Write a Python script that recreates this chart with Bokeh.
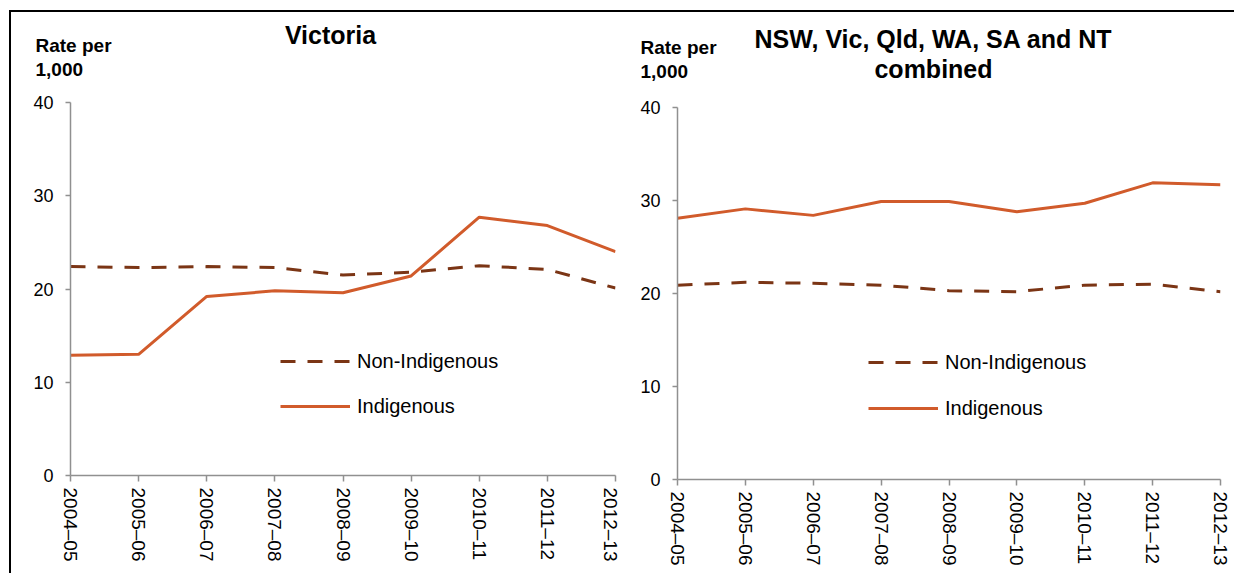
from bokeh.plotting import figure
from bokeh.layouts import row, column
from bokeh.models import Range1d, FixedTicker, Label, Legend, LegendItem, Spacer
from bokeh.embed import file_html
from bokeh.resources import INLINE

years = ["2004\u201305", "2005\u201306", "2006\u201307", "2007\u201308", "2008\u201309",
         "2009\u201310", "2010\u201311", "2011\u201312", "2012\u201313"]
vic_non_indigenous = [22.4, 22.3, 22.4, 22.3, 21.5, 21.8, 22.5, 22.1, 20.1]
vic_indigenous = [12.9, 13.0, 19.2, 19.8, 19.6, 21.4, 27.7, 26.8, 24.0]
comb_non_indigenous = [20.9, 21.2, 21.1, 20.9, 20.3, 20.2, 20.9, 21.0, 20.2]
comb_indigenous = [28.1, 29.1, 28.4, 29.9, 29.9, 28.8, 29.7, 31.9, 31.7]
y_ticks = [0, 10, 20, 30, 40]
titles_left = ["Victoria"]
titles_right = ["NSW, Vic, Qld, WA, SA and NT", "combined"]
y_label_lines = ["Rate per", "1,000"]

FONT = "Liberation Sans"
IND_COLOR = "#D15B2B"
NON_COLOR = "#7B3515"
AXIS_COLOR = "#909090"

HEADER_W, HEADER_H = 1223, 82


def make_panel(non, ind, width, height, bl, br, bt, bb, legend_loc, legend_spacing):
    p = figure(width=width, height=height, output_backend="svg", toolbar_location=None,
               min_border_left=bl, min_border_right=br, min_border_top=bt,
               min_border_bottom=bb, x_range=Range1d(0, len(years) - 1),
               y_range=Range1d(0, 40), background_fill_color="white",
               border_fill_color="white")
    p.outline_line_color = None
    p.xgrid.visible = False
    p.ygrid.visible = False
    xs = list(range(len(years)))

    r_non = p.line(xs, non, line_color=NON_COLOR, line_width=3, line_dash="15 12")
    r_ind = p.line(xs, ind, line_color=IND_COLOR, line_width=3)

    for ax in (p.xaxis[0], p.yaxis[0]):
        ax.axis_line_color = AXIS_COLOR
        ax.axis_line_width = 1.5
        ax.major_tick_line_color = AXIS_COLOR
        ax.major_tick_line_width = 1.5
        ax.major_tick_in = 0
        ax.minor_tick_line_color = None
        ax.major_label_text_font = FONT
        ax.major_label_text_color = "black"

    p.xaxis.ticker = FixedTicker(ticks=xs)
    p.xaxis.major_label_overrides = {i: y for i, y in enumerate(years)}
    p.xaxis.major_label_orientation = "vertical"
    p.xaxis.major_label_text_font_size = "19px"
    p.xaxis.major_tick_out = 6
    p.xaxis.major_label_standoff = 6

    p.yaxis.ticker = FixedTicker(ticks=y_ticks)
    p.yaxis.major_label_text_font_size = "18px"
    p.yaxis.major_tick_out = 5
    p.yaxis.major_label_standoff = 12

    legend = Legend(items=[LegendItem(label="Non-Indigenous", renderers=[r_non]),
                           LegendItem(label="Indigenous", renderers=[r_ind])],
                    location=legend_loc, orientation="vertical",
                    glyph_width=70, glyph_height=24, label_height=24,
                    label_standoff=7, spacing=legend_spacing, padding=0, margin=0,
                    border_line_color=None, background_fill_alpha=0,
                    label_text_font=FONT, label_text_font_size="20px",
                    label_text_color="black")
    p.add_layout(legend)
    return p


# header strip holding the panel titles and the y-axis caption
header = figure(width=HEADER_W, height=HEADER_H, output_backend="svg", toolbar_location=None,
                x_range=Range1d(0, HEADER_W), y_range=Range1d(0, HEADER_H),
                min_border=0, min_border_left=0, min_border_right=0,
                min_border_top=0, min_border_bottom=0)
header.axis.visible = False
header.xgrid.visible = False
header.ygrid.visible = False
header.outline_line_color = None


def add_text(x, y, text, size, align):
    header.add_layout(Label(x=x, y=y, text=text, text_font=FONT, text_font_style="bold",
                            text_font_size=size, text_align=align,
                            text_baseline="middle", text_color="black"))


add_text(319, 60, titles_left[0], "25px", "center")
add_text(922, 56, titles_right[0], "25px", "center")
add_text(922, 26, titles_right[1], "25px", "center")
add_text(24, 49, y_label_lines[0], "19px", "left")
add_text(24, 25, y_label_lines[1], "19px", "left")
add_text(629, 47, y_label_lines[0], "19px", "left")
add_text(629, 23, y_label_lines[1], "19px", "left")

p1 = make_panel(vic_non_indigenous, vic_indigenous,
                width=609, height=479, bl=59, br=5, bt=8, bb=98,
                legend_loc=(210, 57), legend_spacing=21)
p2 = make_panel(comb_non_indigenous, comb_indigenous,
                width=614, height=474, bl=57, br=14, bt=8, bb=94,
                legend_loc=(191, 59), legend_spacing=22)

layout = column(header, row(column(p1), column(Spacer(width=614, height=5), p2)),
                styles={"border-top": "2px solid black",
                        "border-left": "2px solid black",
                        "margin-top": "10px", "margin-left": "9px"})

open("out.html", "w").write(file_html(layout, INLINE))
